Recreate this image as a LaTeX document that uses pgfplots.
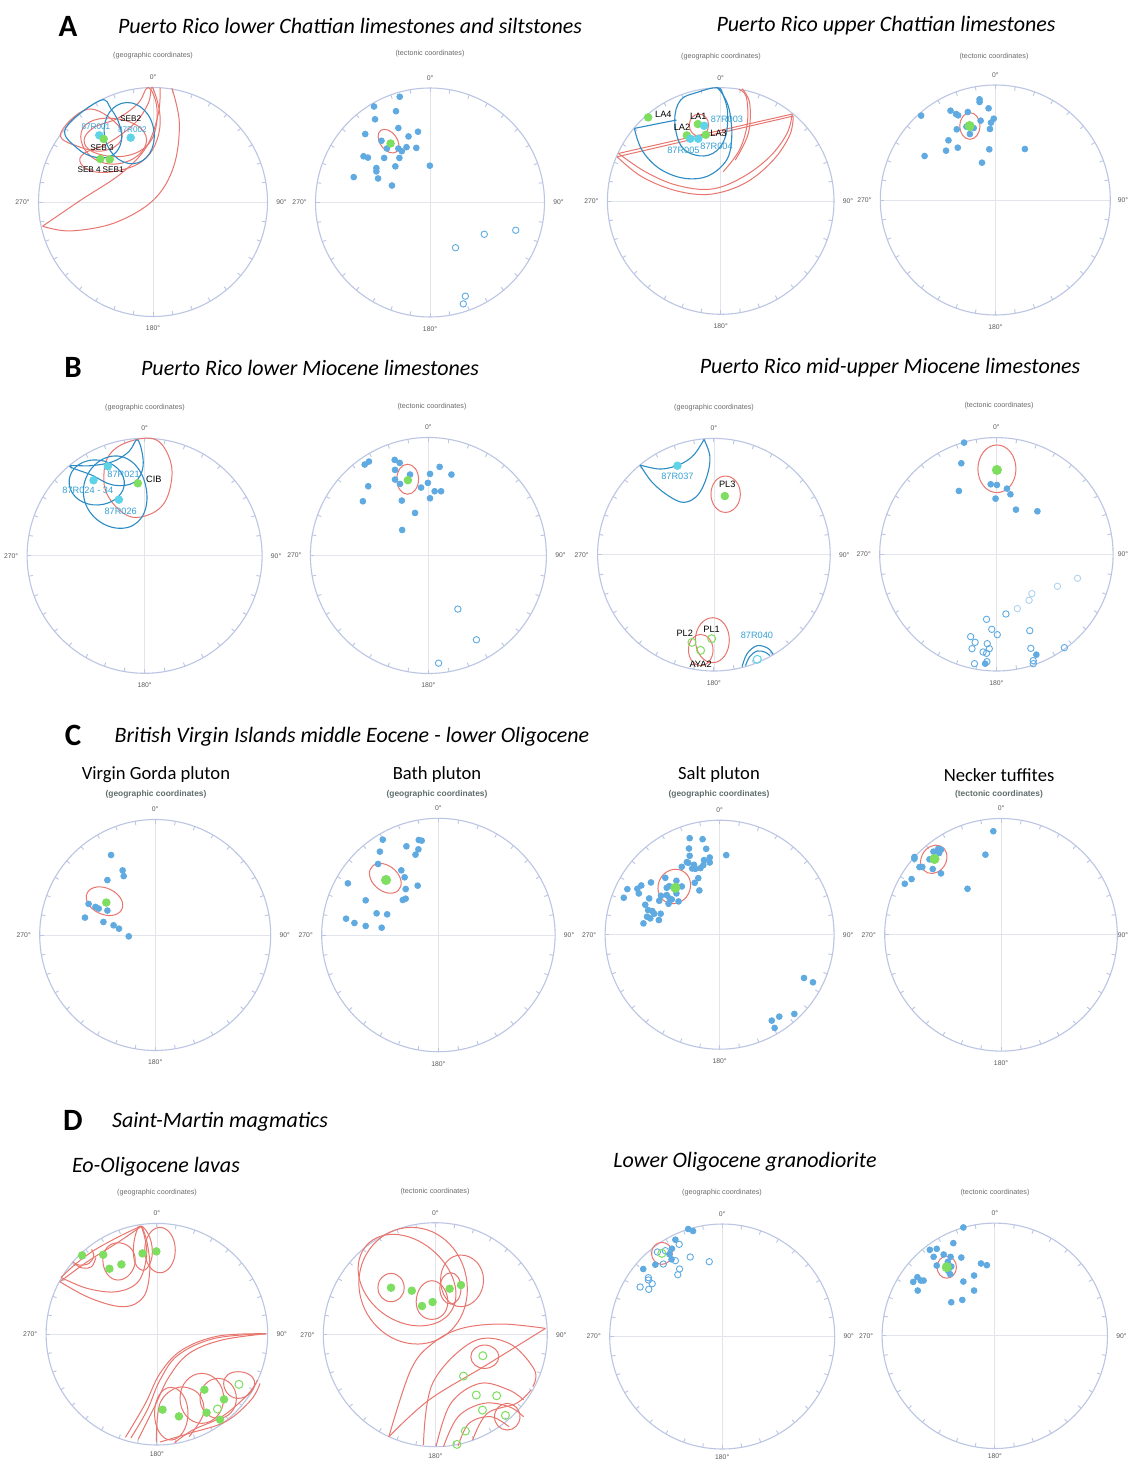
\documentclass[border=0pt]{standalone}
\usepackage{pgfplots}
\pgfplotsset{compat=1.18}
\usepackage{fontspec}
\setmainfont{Carlito}
\newfontfamily\lab{Liberation Sans}
\usetikzlibrary{calc}
\definecolor{circc}{RGB}{188,198,228}
\definecolor{gridc}{RGB}{226,229,236}
\definecolor{bpt}{RGB}{95,170,225}
\definecolor{cpt}{RGB}{95,212,232}
\definecolor{gpt}{RGB}{125,222,95}
\definecolor{redl}{RGB}{232,118,110}
\definecolor{bluel}{RGB}{45,140,195}
\definecolor{bluetxt}{RGB}{55,160,212}
\definecolor{degc}{RGB}{90,90,90}
\definecolor{subgray}{RGB}{95,110,108}
\pgfplotsset{
 net/.style={scale only axis, hide axis, clip=false, anchor=center, y dir=reverse, width=#1pt, height=#1pt},
 pos/.style 2 args={at={({#1*0.5pt},{-#2*0.5pt})}},
 bdot/.style={only marks, mark=*, mark size=1.45pt, color=bpt},
 cdot/.style={only marks, mark=*, mark size=1.9pt, color=cpt},
 gdot/.style={only marks, mark=*, mark size=1.9pt, color=gpt},
 bgdot/.style={only marks, mark=*, mark size=2.3pt, color=gpt},
 bopen/.style={only marks, mark=o, mark size=1.6pt, color=bpt, mark options={line width=0.45pt}},
 lopen/.style={only marks, mark=o, mark size=1.6pt, color=bpt!50, mark options={line width=0.45pt}},
 copen/.style={only marks, mark=o, mark size=2pt, color=cpt, mark options={line width=0.5pt}},
 gopen/.style={only marks, mark=o, mark size=2pt, color=gpt, mark options={line width=0.5pt}},
 re/.style={redl, line width=0.5pt, smooth cycle, tension=1},
 rs/.style={redl, line width=0.5pt, smooth cycle, tension=0.65},
 ro/.style={redl, line width=0.5pt, smooth, tension=0.6},
 rl/.style={redl, line width=0.5pt, sharp plot},
 be/.style={bluel, line width=0.55pt, smooth cycle, tension=1},
 bs/.style={bluel, line width=0.55pt, smooth cycle, tension=0.65},
 bo/.style={bluel, line width=0.55pt, smooth, tension=0.6},
}
\tikzset{
 deg/.style={font=\lab\fontsize{3.4}{4}\selectfont, text=degc, inner sep=0pt},
 sub/.style={font=\lab\fontsize{3.6}{4}\selectfont, text=degc!90, inner sep=0pt},
 subc/.style={font=\lab\bfseries\fontsize{4.2}{5}\selectfont, text=subgray, inner sep=0pt},
 nl/.style={font=\lab\fontsize{4.6}{5}\selectfont, inner sep=0pt},
 nls/.style={font=\lab\fontsize{4.1}{5}\selectfont, inner sep=0pt},
 big/.style={font=\bfseries\fontsize{15.5}{16}\selectfont, inner sep=0pt},
 ttl/.style={font=\itshape\fontsize{11}{12}\selectfont, inner sep=0pt},
 plt/.style={font=\fontsize{9.3}{10}\selectfont, inner sep=0pt},
}
\newcommand{\net}[4]{%
 \draw[gridc, line width=0.4pt] ({#1-#3},#2) -- ({#1+#3},#2) (#1,{#2-#3}) -- (#1,{#2+#3});
 \draw[circc, line width=0.55pt] (#1,#2) circle[radius=#3];
 \foreach \a in {10,20,...,350}{\draw[circc, line width=0.45pt] ($(#1,#2)+(\a:#3)$) -- ($(#1,#2)+(\a:{#3-4})$);}
 \node[deg] at (#1,{#2-#3-10}) {0°};
 \node[deg] at (#1,{#2+#3+#4}) {180°};
 \node[deg] at ({min(#1+#3+14,1123)},#2) {90°};
 \node[deg] at ({#1-#3-16},#2) {270°};
}
\begin{document}
\begin{tikzpicture}[x=0.5pt, y=-0.5pt]
\useasboundingbox (0,0) rectangle (1132,1460);
\fill[white] (0,0) rectangle (1132,1460);
% ---------------- titles
\node[big] at (68,26) {A};
\node[ttl] at (350,26) {Puerto Rico lower Chattian limestones and siltstones};
\node[ttl] at (886,26) {Puerto Rico upper Chattian limestones};
\node[big] at (73,367) {B};
\node[ttl] at (310,368) {Puerto Rico lower Miocene limestones};
\node[ttl] at (890,368) {Puerto Rico mid-upper Miocene limestones};
\node[big] at (73,735) {C};
\node[ttl] at (352,737) {British Virgin Islands middle Eocene - lower Oligocene};
\node[plt] at (156,775) {Virgin Gorda pluton};
\node[plt] at (437,775) {Bath pluton};
\node[plt] at (719,775) {Salt pluton};
\node[plt] at (999,775) {Necker tuffites};
\node[big] at (73,1120) {D};
\node[ttl] at (220,1122) {Saint-Martin magmatics};
\node[ttl] at (156,1167) {Eo-Oligocene lavas};
\node[ttl] at (745,1162) {Lower Oligocene granodiorite};
% subtitles
\node[sub] at (153,56) {(geographic coordinates)};
\node[sub] at (430,54) {(tectonic coordinates)};
\node[sub] at (721,57) {(geographic coordinates)};
\node[sub] at (994,57) {(tectonic coordinates)};
\node[sub] at (145,408) {(geographic coordinates)};
\node[sub] at (432,407) {(tectonic coordinates)};
\node[sub] at (714,408) {(geographic coordinates)};
\node[sub] at (999,406) {(tectonic coordinates)};
\node[subc] at (156,794) {(geographic coordinates)};
\node[subc] at (437,794) {(geographic coordinates)};
\node[subc] at (719,794) {(geographic coordinates)};
\node[subc] at (999,794) {(tectonic coordinates)};
\node[sub] at (157,1193) {(geographic coordinates)};
\node[sub] at (435,1192) {(tectonic coordinates)};
\node[sub] at (722,1193) {(geographic coordinates)};
\node[sub] at (995,1193) {(tectonic coordinates)};
% ---------------- frames
\net{153}{202}{114.5}{12}
\net{430}{202.5}{114.5}{12}
\net{720.7}{201}{113.3}{12}
\net{995.3}{200}{115}{12}
\net{144.6}{555.8}{117.5}{12}
\net{428.4}{555.5}{118}{12}
\net{713.9}{554.7}{116.3}{12}
\net{996.4}{554.3}{116.7}{12}
\net{155.2}{935}{115.5}{12}
\net{438.4}{935}{116.7}{12}
\net{719.6}{934.7}{114.5}{12}
\net{1001}{934.8}{116.3}{12}
\net{156.9}{1334.2}{110.8}{9}
\net{435.3}{1334.7}{112}{9}
\net{722.2}{1336.5}{112.5}{8}
\net{994.8}{1335.8}{112.7}{8}

% ================= A1
\begin{axis}[net=114.5, pos={153}{202}, xmin=25, xmax=703, ymin=143, ymax=828]
\addplot[ro] coordinates {(385,145) (380,220) (345,320) (270,400) (150,480) (37,558)};
\addplot[ro] coordinates {(37,558) (120,572) (250,548) (365,480) (425,380) (442,250) (420,145)};
\addplot[rs] coordinates {(350,143) (375,200) (368,280) (330,330) (260,350) (185,335) (160,300) (190,262) (260,235) (320,190)};
\addplot[rs] coordinates {(362,143) (385,230) (372,310) (330,365) (260,392) (190,395) (150,370) (160,340) (230,310) (310,250) (350,190)};
\addplot[re] coordinates {(240,235) (345,300) (240,372) (150,290)};
\addplot[rs] coordinates {(90,283) (170,208) (255,250) (270,300) (220,332) (150,322)};
\addplot[be] coordinates {(285,188) (367,275) (305,371) (220,283)};
\addplot[bs] coordinates {(105,265) (207,182) (240,208) (265,255) (270,305) (245,345) (195,352) (140,325)};
\addplot[cdot] coordinates {(205,286) (298,293)};
\addplot[gdot] coordinates {(218,297) (208,357) (236,358)};
\node[nls] at (axis cs:298,236) {SEB2};
\node[nls, text=bluetxt] at (axis cs:195,260) {87R001};
\node[nls, text=bluetxt] at (axis cs:303,268) {87R002};
\node[nls] at (axis cs:213,323) {SEB 3};
\node[nls] at (axis cs:175,390) {SEB 4};
\node[nls] at (axis cs:246,390) {SEB1};
\end{axis}
% ================= A2
\begin{axis}[net=114.5, pos={430}{202.5}, xmin=845, xmax=1522, ymin=147, ymax=828]
\addplot[bdot] coordinates {(1094,173) (1018,202) (1083,216) (1021,240) (1090,266) (1148,277) (992,284) (1120,291) (1040,304) (1056,327) (1090,327) (1100,335) (1114,323) (1143,325) (987,350) (1000,354) (1048,355) (1093,355) (1081,380) (1183,378) (1025,385) (1025,395) (1030,416) (958,412) (1071,437)};
\addplot[re] coordinates {(1038,273) (1081.5,290.3) (1084,337) (1040.5,319.7)};
\addplot[gdot] coordinates {(1067,312)};
\addplot[bopen] coordinates {(1259,622) (1344,582) (1437,570) (1288,766) (1282,789)};
\end{axis}
% ================= A3
\begin{axis}[net=113.3, pos={720.7}{201}, xmin=50, xmax=706, ymin=143, ymax=822]
\addplot[rl] coordinates {(82,340) (585,222)};
\addplot[ro] coordinates {(82,340) (160,395) (250,435) (350,447) (440,412) (520,350) (570,280) (585,222)};
\addplot[rl] coordinates {(78,350) (588,228)};
\addplot[ro] coordinates {(78,350) (150,410) (250,452) (350,462) (450,428) (530,360) (578,285) (588,228)};
\addplot[ro] coordinates {(430,148) (452,170) (455,250) (432,330) (385,395)};
\addplot[ro] coordinates {(440,146) (462,190) (458,280) (420,360)};
\addplot[bo] coordinates {(128,265) (150,330) (200,385) (270,414) (340,408) (395,360) (410,290) (403,210) (385,165) (368,143)};
\addplot[bo] coordinates {(128,265) (200,250) (250,240)};
\addplot[bs] coordinates {(368,143) (310,157) (262,180) (245,240) (262,315) (305,345) (355,340) (390,295) (398,220) (385,165)};
\addplot[re] coordinates {(315,222) (343,255) (315,288) (287,255)};
\addplot[gdot] coordinates {(168,232) (312,252) (280,286) (335,284)};
\addplot[cdot] coordinates {(330,257) (290,296) (313,296)};
\node[nl] at (axis cs:212,222) {LA4};
\node[nl] at (axis cs:313,228) {LA1};
\node[nl, text=bluetxt] at (axis cs:396,238) {87R003};
\node[nl] at (axis cs:266,262) {LA2};
\node[nl] at (axis cs:372,281) {LA3};
\node[nl, text=bluetxt] at (axis cs:270,330) {87R005};
\node[nl, text=bluetxt] at (axis cs:366,320) {87R004};
\end{axis}
% ================= A4
\begin{axis}[net=115, pos={995.3}{200}, xmin=840, xmax=1505, ymin=135, ymax=825]
\addplot[bdot] coordinates {(1127,178) (1127,186) (958,227) (1043,212) (1059,222) (1065,226) (1093,216) (1153,205) (1130,242) (1168,236) (1160,248) (1061,268) (1089,260) (1110,264) (1157,267) (1099,282) (1037,301) (1064,323) (1030,332) (1155,328) (1258,327) (968,348) (1134,368)};
\addplot[re] coordinates {(1099,218) (1128,258) (1099,298) (1070,258)};
\addplot[bgdot] coordinates {(1098,258)};
\end{axis}
% ================= B1
\begin{axis}[net=117.5, pos={144.6}{555.8}, xmin=20, xmax=678, ymin=130, ymax=835]
\addplot[rs] coordinates {(250,180) (300,142) (375,132) (415,180) (425,250) (400,330) (340,366) (290,355) (245,300) (235,240)};
\addplot[be] coordinates {(265,183) (355,292) (285,400) (178,300)};
\addplot[be] coordinates {(205,195) (292,258) (220,330) (138,268)};
\addplot[bs] coordinates {(330,135) (345,210) (320,262) (260,270) (200,240) (140,214) (200,212) (260,200) (305,170)};
\addplot[cdot] coordinates {(246,214) (206,256) (277,314)};
\addplot[gdot] coordinates {(330,265)};
\node[nl, text=bluetxt] at (axis cs:290,237) {87R021};
\node[nl] at (axis cs:375,254) {CIB};
\node[nl, text=bluetxt] at (axis cs:190,285) {87R024 - 34};
\node[nl, text=bluetxt] at (axis cs:282,348) {87R026};
\end{axis}
% ================= B2
\begin{axis}[net=118, pos={428.4}{555.5}, xmin=813, xmax=1474, ymin=128, ymax=835]
\addplot[bdot] coordinates {(965,209) (977,200) (1049,195) (1063,204) (1050,225) (1175,216) (1092,239) (1148,237) (1208,239) (1050,254) (1064,267) (1142,264) (1123,278) (975,274) (1161,289) (1179,289) (1148,310) (960,319) (1069,317) (1106,354) (1070,405)};
\addplot[re] coordinates {(1085,208) (1116,253) (1085,298) (1055,253)};
\addplot[gdot] coordinates {(1086,256)};
\addplot[bopen] coordinates {(1226,642) (1278,734) (1172,804)};
\end{axis}
% ================= B3
\begin{axis}[net=116.3, pos={713.9}{554.7}, xmin=22, xmax=695, ymin=130, ymax=828]
\addplot[bo] coordinates {(145,210) (180,262) (228,303) (272,322) (312,300) (338,245) (347,185) (330,133)};
\addplot[bo] coordinates {(330,133) (300,180) (260,208) (205,222) (145,210)};
\addplot[re] coordinates {(392,243) (435,297) (392,352) (350,297)};
\addplot[re] coordinates {(355,668) (403,735) (355,803) (305,735)};
\addplot[re] coordinates {(320,718) (356,765) (320,812) (285,765)};
\addplot[bo] coordinates {(440,815) (455,775) (484,752) (515,760) (530,778)};
\addplot[bo] coordinates {(450,812) (462,785) (484,768) (508,772) (520,782)};
\addplot[cdot] coordinates {(253,212)};
\addplot[gdot] coordinates {(390,303)};
\addplot[gopen] coordinates {(295,742) (352,731) (320,766)};
\addplot[copen] coordinates {(484,793)};
\node[nl, text=bluetxt] at (axis cs:253,243) {87R037};
\node[nl] at (axis cs:397,268) {PL3};
\node[nl] at (axis cs:274,716) {PL2};
\node[nl] at (axis cs:352,704) {PL1};
\node[nl] at (axis cs:320,807) {AYA2};
\node[nl, text=bluetxt] at (axis cs:483,720) {87R040};
\end{axis}
% ================= B4
\begin{axis}[net=116.7, pos={996.4}{554.3}, xmin=838, xmax=1513, ymin=128, ymax=828]
\addplot[bdot] coordinates {(1082,143) (1074,205) (1067,288) (1159,268) (1177,270) (1206,281) (1216,298) (1173,311) (1232,344) (1294,349) (1291,779) (1143,806)};
\addplot[re] coordinates {(1177,150) (1232,222) (1177,293) (1122,222)};
\addplot[bgdot] coordinates {(1177,225)};
\addplot[lopen] coordinates {(1410,550) (1352,574) (1278,596) (1270,616) (1236,641)};
\addplot[bopen] coordinates {(1203,657) (1147,673) (1162,703) (1178,719) (1272,707) (1101,725) (1114,742) (1149,746) (1155,761) (1105,761) (1137,771) (1147,775) (1275,760) (1372,758) (1112,806) (1148,800) (1282,797) (1282,806)};
\end{axis}
% ================= C1
\begin{axis}[net=115.5, pos={155.2}{935}, xmin=108, xmax=746, ymin=180, ymax=870]
\addplot[bdot] coordinates {(305,286) (337,332) (340,349) (295,361) (243,432) (262,441) (271,446) (295,452) (233,473) (284,486) (312,496) (327,506) (354,529)};
\addplot[re] coordinates {(240,398) (305,390) (334,450) (269,458)};
\addplot[gdot] coordinates {(292,428)};
\end{axis}
% ================= C2
\begin{axis}[net=116.7, pos={438.4}{935}, xmin=885, xmax=1527, ymin=175, ymax=875]
\addplot[bdot] coordinates {(1053,239) (1152,240) (1160,242) (1118,259) (1151,268) (1045,275) (1143,284) (1040,312) (1104,331) (1113,352) (957,370) (1149,377) (1116,387) (1006,421) (1108,420) (1116,416) (1036,460) (1065,463) (952,476) (975,489) (1006,498) (1050,503)};
\addplot[re] coordinates {(1025,318) (1086,330) (1095,392) (1034,380)};
\addplot[bgdot] coordinates {(1062,360)};
\end{axis}
% ================= C3
\begin{axis}[net=114.5, pos={719.6}{934.7}, xmin=98, xmax=737, ymin=180, ymax=868]
\addplot[bdot] coordinates {(334,234) (370,237) (332,265) (380,266) (334,287) (436,285) (390,292) (374,300) (326,306) (330,308) (390,307) (312,320) (346,314) (341,325) (350,326) (364,324) (372,315) (266,353) (297,362) (358,354) (226,367) (348,368) (160,387) (188,386) (199,376) (192,400) (270,383) (277,378) (312,379) (150,413) (221,415) (297,400) (361,391) (254,407) (249,422) (270,405) (278,415) (284,418) (303,424) (210,434) (275,431) (218,450) (230,453) (235,461) (253,461) (215,470) (224,475) (248,480) (205,490) (653,654) (678,667) (626,762) (584,770) (563,782) (571,804)};
\addplot[re] coordinates {(306,329) (334,392) (276,429) (248,366)};
\addplot[bgdot] coordinates {(294,383)};
\end{axis}
% ================= C4
\begin{axis}[net=116.3, pos={1001}{934.8}, xmin=878, xmax=1527, ymin=177, ymax=872]
\addplot[bdot] coordinates {(1181,215) (1159,285) (961,292) (961,297) (1014,276) (1027,268) (1035,270) (1030,280) (1003,299) (975,322) (983,322) (1012,328) (1035,341) (953,358) (934,372) (1109,387)};
\addplot[re] coordinates {(1033,259) (1047,313) (997,339) (983,285)};
\addplot[bgdot] coordinates {(1017,298)};
\end{axis}
% ================= D1
\begin{axis}[net=110.8, pos={156.9}{1334.2}, xmin=127, xmax=736, ymin=220, ymax=885]
\addplot[re] coordinates {(440,232) (482,300) (440,368) (398,300)};
\addplot[rs] coordinates {(385,228) (412,262) (418,320) (398,360) (372,340) (368,280)};
\addplot[re] coordinates {(325,278) (372,330) (325,390) (283,330)};
\addplot[ro] coordinates {(200,335) (218,345) (245,340) (258,318) (252,298)};
\addplot[ro] coordinates {(205,342) (228,354) (252,350) (264,322)};
\addplot[ro] coordinates {(388,228) (330,258) (260,300) (210,340) (168,382)};
\addplot[ro] coordinates {(168,382) (240,415) (320,425) (380,395) (403,320) (398,262) (388,228)};
\addplot[ro] coordinates {(390,228) (320,280) (240,335) (165,395)};
\addplot[ro] coordinates {(165,395) (250,445) (340,470) (395,440) (412,360) (405,280) (390,228)};
\addplot[ro] coordinates {(732,551) (600,558) (500,600) (440,670) (400,760) (345,862)};
\addplot[ro] coordinates {(732,551) (590,565) (490,615) (440,690) (405,780) (360,864)};
\addplot[ro] coordinates {(732,551) (610,570) (520,610) (465,680) (425,770) (380,868)};
\addplot[re] coordinates {(470,712) (517,790) (470,870) (425,790)};
\addplot[re] coordinates {(555,670) (615,745) (555,820) (495,745)};
\addplot[re] coordinates {(600,685) (650,745) (600,805) (550,745)};
\addplot[re] coordinates {(655,665) (700,700) (655,745) (615,700)};
\addplot[ro] coordinates {(430,875) (440,760) (490,712) (545,730) (560,790) (520,860)};
\addplot[ro] coordinates {(480,878) (530,840) (610,800) (680,735) (708,690)};
\addplot[ro] coordinates {(440,876) (520,850) (620,815) (690,750) (715,700)};
\addplot[gdot] coordinates {(226,316) (284,314) (301,356) (334,343) (392,310) (430,304) (562,719) (616,748) (447,779) (492,799) (568,788) (605,809)};
\addplot[gopen] coordinates {(657,703) (598,777)};
\end{axis}
% ================= D2
\begin{axis}[net=112, pos={435.3}{1334.7}, xmin=890, xmax=1505, ymin=218, ymax=890]
\addplot[re] coordinates {(1130,232) (1285,405) (1150,582) (988,410)};
\addplot[re] coordinates {(1060,255) (1240,370) (1180,525) (1000,420)};
\addplot[re] coordinates {(1076,370) (1112,413) (1076,455) (1040,413)};
\addplot[re] coordinates {(1188,392) (1232,455) (1188,508) (1145,455)};
\addplot[re] coordinates {(1240,368) (1268,415) (1240,462) (1210,415)};
\addplot[re] coordinates {(1268,315) (1330,390) (1268,470) (1212,390)};
\addplot[ro] coordinates {(1500,535) (1380,522) (1270,535) (1190,580) (1130,660) (1070,860)};
\addplot[ro] coordinates {(1070,860) (1180,750) (1330,650) (1500,535)};
\addplot[ro] coordinates {(1165,885) (1190,700) (1300,575) (1400,580) (1470,660) (1465,710)};
\addplot[re] coordinates {(1333,585) (1372,620) (1333,655) (1295,620)};
\addplot[ro] coordinates {(1200,888) (1240,760) (1320,700) (1400,720) (1440,750)};
\addplot[ro] coordinates {(1220,890) (1260,800) (1330,760) (1400,770) (1440,800)};
\addplot[ro] coordinates {(1260,888) (1290,820) (1350,800) (1400,830)};
\addplot[ro] coordinates {(1300,870) (1340,790) (1420,760) (1460,720)};
\addplot[re] coordinates {(1395,760) (1430,800) (1395,840) (1360,800)};
\addplot[gdot] coordinates {(1076,413) (1133,422) (1161,468) (1190,456) (1237,416) (1268,405)};
\addplot[gopen] coordinates {(1328,617) (1275,678) (1310,735) (1366,737) (1327,780) (1390,796) (1280,843) (1257,883)};
\end{axis}
% ================= D3
\begin{axis}[net=112.5, pos={722.2}{1336.5}, xmin=57, xmax=708, ymin=222, ymax=897]
\addplot[bdot] coordinates {(284,237) (298,243) (247,269) (237,296) (230,313) (236,328) (189,344) (154,357)};
\addplot[bopen] coordinates {(258,283) (195,306) (218,302) (212,342) (247,332) (290,321) (345,335) (259,357) (254,374) (169,383) (169,390) (180,401) (145,411) (170,418)};
\addplot[re] coordinates {(208,277) (238,310) (208,343) (178,310)};
\addplot[gopen] coordinates {(208,310)};
\end{axis}
% ================= D4
\begin{axis}[net=112.7, pos={994.8}{1335.8}, xmin=845, xmax=1497, ymin=220, ymax=895]
\addplot[bdot] coordinates {(1080,233) (1051,280) (983,300) (1003,297) (994,321) (1023,314) (1043,321) (1074,323) (1003,347) (1035,336) (1040,353) (1045,350) (1036,363) (1042,373) (1131,341) (1148,346) (947,382) (935,396) (957,392) (965,392) (948,422) (1111,377) (1080,395) (1111,422) (1045,457) (1077,450)};
\addplot[re] coordinates {(1032,319) (1060,352) (1032,385) (1004,352)};
\addplot[bgdot] coordinates {(1032,352)};
\end{axis}
\end{tikzpicture}
\end{document}
